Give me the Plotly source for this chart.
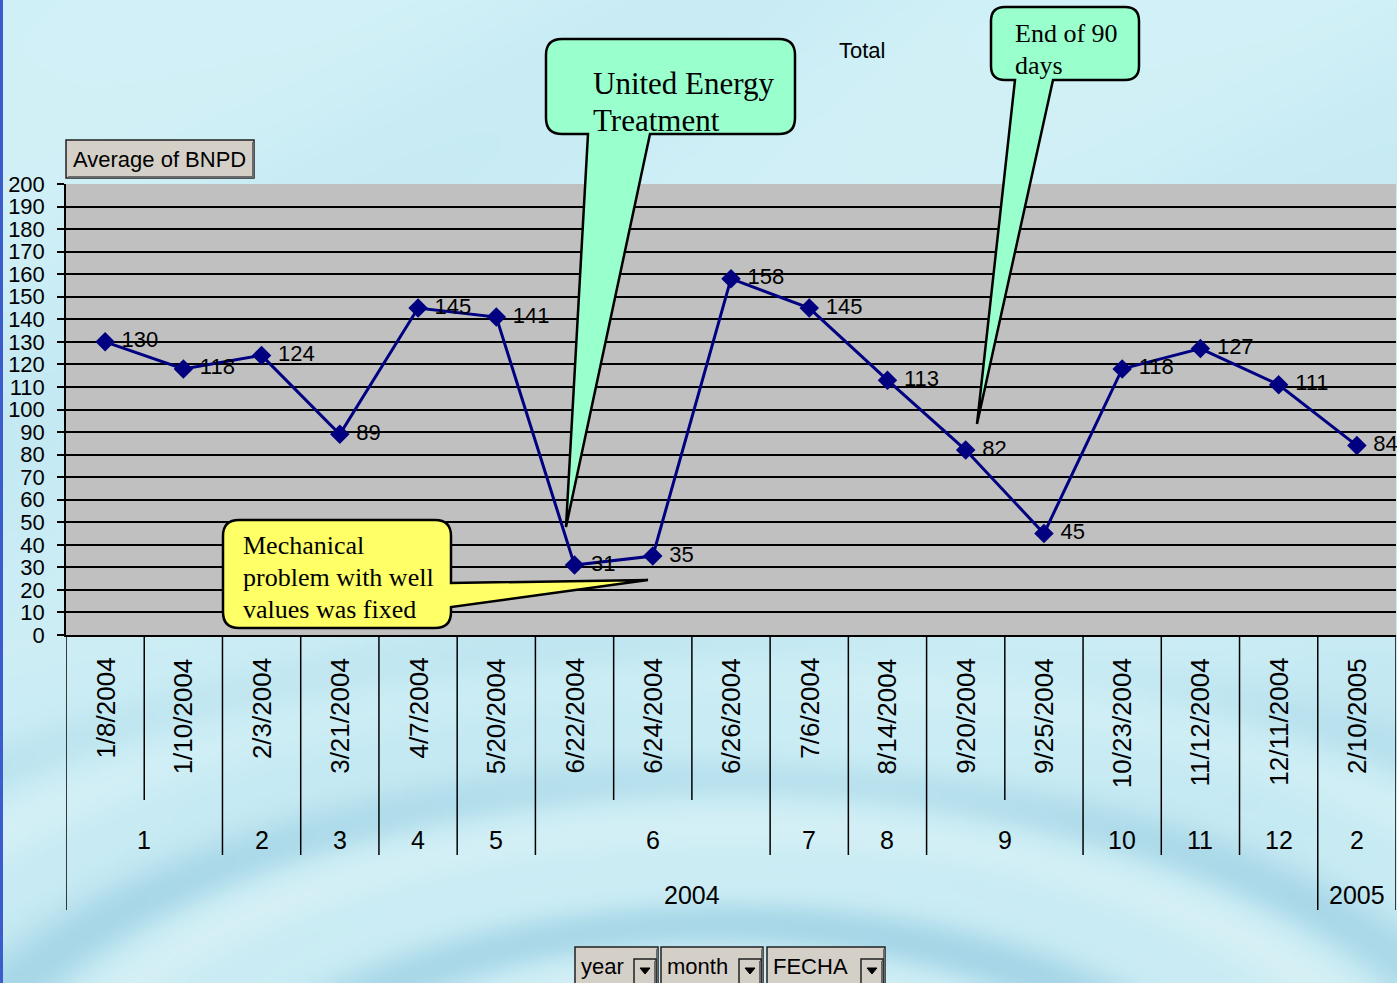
import base64
import struct
import zlib

import numpy as np
import plotly.graph_objects as go

# ---- data -------------------------------------------------------------
dates = ["1/8/2004", "1/10/2004", "2/3/2004", "3/21/2004", "4/7/2004",
         "5/20/2004", "6/22/2004", "6/24/2004", "6/26/2004", "7/6/2004",
         "8/14/2004", "9/20/2004", "9/25/2004", "10/23/2004", "11/12/2004",
         "12/11/2004", "2/10/2005"]
bnpd = [130, 118, 124, 89, 145, 141, 31, 35, 158, 145, 113, 82, 45, 118,
        127, 111, 84]
months = [1, 1, 2, 3, 4, 5, 6, 6, 6, 7, 8, 9, 9, 10, 11, 12, 2]
years = [2004] * 16 + [2005]
y_ticks = list(range(0, 201, 10))

# ---- page geometry ----------------------------------------------------
W, H = 1397, 983
L, T, R, B = 66, 184, 1396, 635


def px(x):
    return (x - L) / (R - L)


def py(y):
    return (B - y) / (B - T)


ARIAL = "Arial, Liberation Sans, Helvetica, sans-serif"
TIMES = "Times New Roman, Liberation Serif, serif"


# ---- soft water backdrop ---------------------------------------------
def png_uri(arr):
    h, w, _ = arr.shape
    raw = b"".join(b"\x00" + arr[i].tobytes() for i in range(h))

    def chunk(tag, data):
        c = struct.pack(">I", len(data)) + tag + data
        return c + struct.pack(">I", zlib.crc32(tag + data) & 0xFFFFFFFF)

    png = (b"\x89PNG\r\n\x1a\n"
           + chunk(b"IHDR", struct.pack(">IIBBBBB", w, h, 8, 2, 0, 0, 0))
           + chunk(b"IDAT", zlib.compress(raw, 9))
           + chunk(b"IEND", b""))
    return "data:image/png;base64," + base64.b64encode(png).decode()


gh, gw = 197, 280
yy, xx = np.mgrid[0:gh, 0:gw].astype(float)
yy *= H / gh
xx *= W / gw
top = np.array([208, 240, 247], float)
low = np.array([198, 234, 243], float)
t = np.clip(yy / H, 0, 1)[..., None]
img = top * (1 - t) + low * t
ring = np.sqrt((xx - 720) ** 2 + ((yy - 1180) * 2.0) ** 2)
wave = np.sin(ring / 48.0) + 0.5 * np.sin(ring / 23.0 + 1.3)
weight = np.clip((yy - 600) / 300, 0, 1) * 0.7
soft = 0.2 * np.sin(xx / 150.0 + yy / 90.0) * (1 - weight)
s = (wave * weight + soft)[..., None]
blue = np.array([140, 198, 222], float)
white = np.array([236, 250, 250], float)
img = np.where(s < 0, img + (-s) * (blue - img) * 0.5,
               img + s * (white - img) * 0.5)
bg_uri = png_uri(np.clip(img, 0, 255).astype(np.uint8))

# ---- figure -----------------------------------------------------------
idx = list(range(len(dates)))
fig = go.Figure()
fig.add_trace(go.Scatter(
    x=idx, y=bnpd, mode="lines+markers+text",
    text=["\u00a0" + str(v) for v in bnpd], textposition="middle right",
    textfont=dict(family=ARIAL, size=22, color="black"),
    line=dict(color="#000080", width=3),
    marker=dict(symbol="diamond", size=15, color="#000080"),
    cliponaxis=False, showlegend=False, hoverinfo="skip"))

# grey plot area, kept beneath the gridlines
shapes = [dict(type="rect", xref="paper", yref="paper", x0=0, x1=1,
               y0=0, y1=1, fillcolor="#c0c0c0", line=dict(width=0),
               layer="below")]
annotations = []


# category axis: separators and multi-level labels
def sep_depth(i):
    # boundary between category i and i+1
    if i < 0 or i >= len(dates) - 1 or years[i] != years[i + 1]:
        return 910
    if months[i] != months[i + 1]:
        return 855
    return 800


for i in range(-1, len(dates)):
    shapes.append(dict(type="line", xref="x", yref="paper",
                       x0=i + 0.5, x1=i + 0.5, y0=py(B), y1=py(sep_depth(i)),
                       line=dict(color="black", width=1.5)))

for i, d in enumerate(dates):
    annotations.append(dict(x=i, y=py(656), xref="x", yref="paper",
                            text=d, textangle=-90, showarrow=False,
                            xanchor="center", yanchor="top",
                            font=dict(family=ARIAL, size=26, color="black")))

# month groups
groups = []
for i, (m, yv) in enumerate(zip(months, years)):
    if groups and groups[-1][0] == (yv, m):
        groups[-1][1].append(i)
    else:
        groups.append([(yv, m), [i]])
for (yv, m), members in groups:
    annotations.append(dict(x=sum(members) / len(members), y=py(840),
                            xref="x", yref="paper", text=str(m),
                            showarrow=False, yanchor="middle",
                            font=dict(family=ARIAL, size=25, color="black")))

# year groups
for yv in sorted(set(years)):
    members = [i for i, v in enumerate(years) if v == yv]
    annotations.append(dict(x=sum(members) / len(members), y=py(895),
                            xref="x", yref="paper", text=str(yv),
                            showarrow=False, yanchor="middle",
                            font=dict(family=ARIAL, size=25, color="black")))


# ---- callouts ---------------------------------------------------------
def callout(x0, y0, x1, y1, r, side, a, b, tip):
    pts = [("M", (x0 + r, y0)), ("L", (x1 - r, y0)),
           ("Q", (x1, y0), (x1, y0 + r))]
    if side == "right":
        pts += [("L", (x1, a)), ("L", tip), ("L", (x1, b))]
    pts += [("L", (x1, y1 - r)), ("Q", (x1, y1), (x1 - r, y1))]
    if side == "bottom":
        pts += [("L", (b, y1)), ("L", tip), ("L", (a, y1))]
    pts += [("L", (x0 + r, y1)), ("Q", (x0, y1), (x0, y1 - r)),
            ("L", (x0, y0 + r)), ("Q", (x0, y0), (x0 + r, y0))]
    out = []
    for cmd, *ps in pts:
        out.append(cmd + " " + " ".join(f"{px(p[0]):.5f},{py(p[1]):.5f}"
                                         for p in ps))
    return " ".join(out) + " Z"


def callout_shape(path, fill):
    return dict(type="path", xref="paper", yref="paper", path=path,
                fillcolor=fill, line=dict(color="black", width=2.5),
                layer="above")


shapes.append(callout_shape(
    callout(546, 39, 795, 134, 16, "bottom", 588, 650, (566, 527)),
    "#99ffcc"))
shapes.append(callout_shape(
    callout(991, 7, 1139, 80, 14, "bottom", 1015, 1053, (977, 424)),
    "#99ffcc"))
shapes.append(callout_shape(
    callout(223, 520, 451, 628, 16, "right", 583, 607, (648, 580)),
    "#ffff66"))


def text_line(x, y, s, size, family=TIMES, anchor="left"):
    annotations.append(dict(x=px(x), y=py(y), xref="paper", yref="paper",
                            text=s, showarrow=False, xanchor=anchor,
                            yanchor="middle",
                            font=dict(family=family, size=size,
                                      color="black")))


text_line(591, 83, "United Energy", 31)
text_line(591, 120, "Treatment", 31)
text_line(1013, 33, "End of 90", 26)
text_line(1013, 66, "days", 26)
text_line(241, 545, "Mechanical", 26)
text_line(241, 577, "problem with well", 26)
text_line(241, 609, "values was fixed", 26)


# ---- pivot-table field buttons ----------------------------------------
def button(x0, y0, x1, y1):
    shapes.append(dict(type="rect", xref="paper", yref="paper",
                       x0=px(x0), x1=px(x1), y0=py(y0), y1=py(y1),
                       fillcolor="#d4d0c8", line=dict(color="#202020", width=1.5),
                       layer="above"))
    shapes.append(dict(type="path", xref="paper", yref="paper",
                       path=f"M {px(x0 + 2):.5f},{py(y1 - 1):.5f} "
                            f"L {px(x1 - 1):.5f},{py(y1 - 1):.5f} "
                            f"L {px(x1 - 1):.5f},{py(y0 + 2):.5f}",
                       line=dict(color="#6a6a6a", width=2), layer="above"))


button(66, 140, 254, 178)
text_line(71, 159, "Average of BNPD", 22, ARIAL)
text_line(862, 50, "Total", 22, ARIAL, anchor="center")

fields = [("year", 575, 658), ("month", 661, 763), ("FECHA", 767, 885)]
for name, x0, x1 in fields:
    button(x0, 947, x1, 990)
    text_line(x0 + 4, 966, name, 22, ARIAL)
    button(x1 - 24, 959, x1 - 2, 990)
    cx = x1 - 13
    shapes.append(dict(type="path", xref="paper", yref="paper",
                       path=f"M {px(cx - 5):.5f},{py(968):.5f} "
                            f"L {px(cx + 5):.5f},{py(968):.5f} "
                            f"L {px(cx):.5f},{py(974):.5f} Z",
                       fillcolor="black", line=dict(color="black", width=1),
                       layer="above"))

# left window edge
shapes.append(dict(type="line", xref="paper", yref="paper",
                   x0=px(1.5), x1=px(1.5), y0=py(0), y1=py(H),
                   line=dict(color="#3a5ccc", width=3), layer="above"))

fig.update_layout(
    width=W, height=H,
    margin=dict(l=L, r=W - R, t=T, b=H - B, pad=0),
    paper_bgcolor="#cdeef6",
    plot_bgcolor="#c0c0c0",
    showlegend=False,
    xaxis=dict(range=[-0.5, len(dates) - 0.5], showticklabels=False,
               showgrid=False, zeroline=False, showline=True,
               linecolor="black", linewidth=1.5, ticks="", fixedrange=True),
    yaxis=dict(range=[0, 200], tickvals=y_ticks, showgrid=True,
               gridcolor="black", gridwidth=1.5, zeroline=False,
               showline=True, linecolor="black", linewidth=1.5,
               ticks="outside", ticklen=7, tickwidth=1.5, tickcolor="black",
               ticklabelstandoff=8,
               tickfont=dict(family=ARIAL, size=22, color="black")),
    shapes=shapes,
    annotations=annotations,
    images=[dict(source=bg_uri, xref="paper", yref="paper",
                 x=px(0), y=py(0), sizex=W / (R - L), sizey=H / (B - T),
                 xanchor="left", yanchor="top", sizing="stretch",
                 layer="below")],
)

fig.write_html("out.html")
